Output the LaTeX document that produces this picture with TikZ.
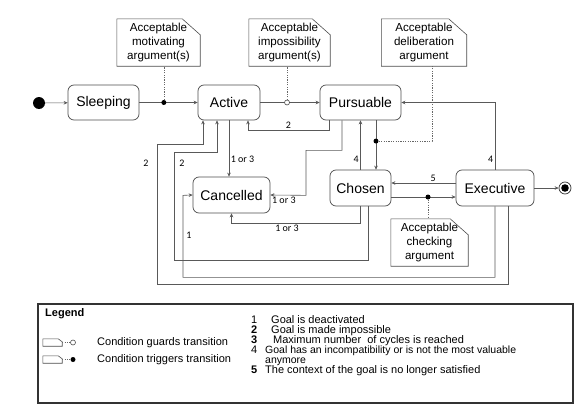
\documentclass[tikz,border=0pt]{standalone}
\usepackage{fontspec}
\setmainfont{Liberation Sans}
\newfontfamily\lblfont{Carlito}
\usetikzlibrary{arrows.meta}
\begin{document}
\begin{tikzpicture}[x=1pt,y=-1pt,
  >={Stealth[length=4pt,width=3.6pt]},
  state/.style={draw=black!70,line width=0.7pt,rounded corners=6pt,inner sep=0pt,
    font=\fontsize{14}{16}\selectfont},
  note/.style={inner sep=0pt,align=center,minimum height=47pt,
    font=\fontsize{11.6}{14}\selectfont},
  notebox/.style={draw=black!70,line width=0.6pt},
  trans/.style={draw=black!65,line width=0.6pt,->},
  cond/.style={draw=black!60,line width=0.6pt,dash pattern=on 1.2pt off 1.2pt},
  trig/.style={circle,fill=black,inner sep=0pt,minimum size=5pt},
  guard/.style={circle,draw=black!70,fill=white,line width=0.6pt,inner sep=0pt,minimum size=5pt},
  lbl/.style={font=\lblfont\fontsize{10}{11}\selectfont,inner sep=1.5pt},
  legtxt/.style={font=\fontsize{11}{10}\selectfont,inner sep=0pt,anchor=west,
    text height=8pt,text depth=2.4pt}]
\useasboundingbox (0,0) rectangle (582,407);

% states
\node[circle,fill=black,inner sep=0pt,minimum size=12pt] (init) at (39,103) {};
\node[state,minimum width=71pt,minimum height=35pt] (sl) at (103.5,102.5) {Sleeping};
\node[state,minimum width=62pt,minimum height=35pt] (act) at (229,102.5) {Active};
\node[state,minimum width=81pt,minimum height=35pt] (pur) at (360.5,102.5) {Pursuable};
\node[state,minimum width=77pt,minimum height=36pt] (can) at (231.5,195) {Cancelled};
\node[state,minimum width=61pt,minimum height=36pt] (cho) at (360.5,188) {Chosen};
\node[state,minimum width=78pt,minimum height=36pt] (exe) at (495,188) {Executive};
\node[circle,draw=black!80,line width=0.7pt,inner sep=0pt,minimum size=12pt,
  path picture={\fill (path picture bounding box.center) circle (3.8pt);}] (fin) at (565,188) {};

% notes
\node[note,minimum width=83pt] (mot) at (158.5,42.5) {Acceptable\\motivating\\argument(s)};
\node[note,minimum width=81pt] (imp) at (289.5,42.5) {Acceptable\\impossibility\\argument(s)};
\node[note,minimum width=85pt] (del) at (424,42.5) {Acceptable\\deliberation\\argument};
\node[note,minimum width=77pt] (chk) at (429.5,242.5) {Acceptable\\checking\\argument};
\foreach \n in {mot,imp,del,chk}
  \draw[notebox] (\n.south west) -- (\n.north west) -- ([xshift=-18pt]\n.north east)
    -- ([yshift=-16pt]\n.north east) -- (\n.south east) -- cycle;

% transitions
\draw[trans] (init) -- (sl);
\draw[trans] (sl) -- (act) node[trig,pos=0.42] (t1) {};
\draw[trans] (act) -- (pur) node[guard,pos=0.45] (g1) {};
\draw[trans] ([xshift=-31.5pt]pur.south) -- ++(0,10) -| ([xshift=19pt]act.south)
  node[lbl,above,pos=0.25] {2};
\draw[trans] (act.south) -- (act.south |- can.north) node[lbl,right,pos=0.7] {1 or 3};
\draw[trans] ([xshift=7.5pt]cho.south) -- ++(0,54) -| ++(-194,-108) -| ([xshift=-12pt]act.south);
\draw[trans] ([xshift=13pt]exe.south) -- ++(0,78) -| ++(-351,-140) -| ([xshift=-26pt]act.south);
\draw[trans] (exe.south) -- ++(0,71) -| ++(-312,-82) -- (can.west);
\draw[trans] (cho.south) -- ++(0,17) -| (can.south) node[lbl,below,pos=0.285] {1 or 3};
\draw[trans] ([xshift=-18.5pt]pur.south) -- ++(0,30) -| ++(-36,45) -- (can.east)
  node[lbl,anchor=north west] {1 or 3};
\draw[trans] (cho.north) -- (cho.north |- pur.south) node[lbl,left,pos=0.22] {4};
\draw[trans] ([xshift=15.5pt]pur.south) -- ([xshift=15.5pt]cho.north) node[trig,pos=0.42] (t3) {};
\draw[trans] (exe.north) |- (pur.east) node[lbl,left,pos=0.08] {4};
\draw[trans] ([yshift=5pt]exe.west) -- ([yshift=5pt]cho.east) node[lbl,above,pos=0.35] {5};
\draw[trans] ([yshift=-9pt]cho.east) -- ([yshift=-9pt]exe.west) node[trig,pos=0.57] (t4) {};
\draw[trans] (exe) -- (fin);
\node[lbl] (l2a) at (146,163) {2};
\node[lbl] (l2b) at (182,163) {2};
\node[lbl] (l1) at (189,235) {1};

% conditions
\draw[cond] (t1) -- (t1 |- mot.south);
\draw[cond] (g1) -- (g1 |- imp.south);
\draw[cond] (t3) -| ([xshift=8pt]del.south);
\draw[cond] (t4) -- (t4 |- chk.north);

% legend
\node[draw=black!80,line width=1.2pt,inner sep=0pt,minimum width=535pt,minimum height=99pt] (leg) at (305.5,353.5) {};
\node[legtxt,font=\bfseries\fontsize{11}{10}\selectfont] (legt) at (45,314) {Legend};
\node[inner sep=0pt,minimum width=19pt,minimum height=7pt] (lgn1) at (52.5,342.5) {};
\node[inner sep=0pt,minimum width=19pt,minimum height=7pt] (lgn2) at (52.5,359.5) {};
\foreach \n in {lgn1,lgn2}
  \draw[notebox] (\n.south west) -- (\n.north west) -- ([xshift=-4pt]\n.north east)
    -- ([yshift=-3pt]\n.north east) -- (\n.south east) -- cycle;
\node[guard] (lgg) at (73,342.5) {};
\node[trig] (lgt) at (73,359.5) {};
\draw[cond] (lgn1) -- (lgg);
\draw[cond] (lgn2) -- (lgt);
\node[legtxt] (lgc1) at (97,343) {Condition guards transition};
\node[legtxt] (lgc2) at (97,360) {Condition triggers transition};

\node[legtxt] (n1) at (251,321) {1};
\node[legtxt] (d1) at (271,321) {Goal is deactivated};
\node[legtxt] (n2) at (251,331) {\bfseries 2};
\node[legtxt] (d2) at (271,331) {Goal is made impossible};
\node[legtxt] (n3) at (251,341) {\bfseries 3};
\node[legtxt] (d3) at (273,341) {Maximum number~ of cycles is reached};
\node[legtxt] (n4) at (251,351) {4};
\node[legtxt,font=\fontsize{10.5}{10}\selectfont] (d4) at (265,351) {Goal has an incompatibility or is not the most valuable};
\node[legtxt,font=\fontsize{10.5}{10}\selectfont] (d4b) at (265,361) {anymore};
\node[legtxt] (n5) at (251,371) {\bfseries 5};
\node[legtxt] (d5) at (265,371) {The context of the goal is no longer satisfied};
\end{tikzpicture}
\end{document}
